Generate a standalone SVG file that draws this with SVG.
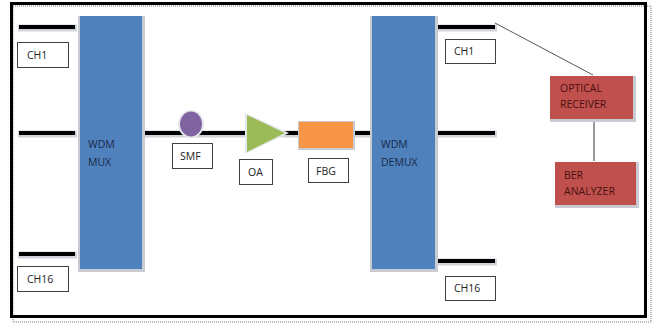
<svg xmlns="http://www.w3.org/2000/svg" width="654" height="323" viewBox="0 0 654 323">
<style>
.lbl{fill:#fff;stroke:#404040;stroke-width:1}
.t{font-family:"Open Sans","Liberation Sans",sans-serif;font-size:10.5px;fill:#222}
.tw{font-family:"Open Sans","Liberation Sans",sans-serif;font-size:10.5px;fill:#1a2a4a}
.tr{font-family:"Open Sans","Liberation Sans",sans-serif;font-size:10.5px;fill:#4a1010}
.fib{stroke:#000;stroke-width:4}
.fsh{stroke:#d0d4da;stroke-width:7}
.sh{fill:#c8ccd2}
</style>
<rect x="0" y="0" width="654" height="323" fill="#fff"/>
<rect x="13" y="6" width="638" height="316" fill="none" stroke="#bbb" stroke-width="2" stroke-dasharray="1 1"/>
<rect x="11.5" y="3.5" width="634" height="313" fill="none" stroke="#000" stroke-width="3"/>
<g id="connectors">
<line class="fsh" x1="18" y1="28" x2="77" y2="28"/>
<line class="fsh" x1="18" y1="134" x2="77" y2="134"/>
<line class="fsh" x1="18" y1="255" x2="77" y2="255"/>
<line class="fsh" x1="142" y1="134" x2="372" y2="134"/>
<line class="fsh" x1="436" y1="28" x2="497" y2="28"/>
<line class="fsh" x1="436" y1="134" x2="497" y2="134"/>
<line class="fsh" x1="436" y1="262" x2="497" y2="262"/>
<line class="fib" x1="19" y1="27" x2="75" y2="27"/>
<line class="fib" x1="19" y1="133" x2="75" y2="133"/>
<line class="fib" x1="19" y1="254" x2="75" y2="254"/>
<line class="fib" x1="142" y1="133" x2="372" y2="133"/>
<line class="fib" x1="437" y1="27" x2="495" y2="27"/>
<line class="fib" x1="437" y1="133" x2="495" y2="133"/>
<line class="fib" x1="437" y1="261" x2="495" y2="261"/>
<line x1="495" y1="23" x2="593" y2="75" stroke="#555" stroke-width="1"/>
<line x1="594" y1="120" x2="594" y2="161" stroke="#555" stroke-width="1.2"/>
</g>
<g id="mux">
<rect class="sh" x="78" y="16" width="67" height="256"/>
<rect x="80" y="16" width="62" height="253" fill="#4F81BD"/>
<text class="tw" x="88" y="148">WDM</text>
<text class="tw" x="88" y="166">MUX</text>
</g>
<g id="demux">
<rect class="sh" x="370" y="16" width="68" height="256"/>
<rect x="372" y="16" width="63" height="253" fill="#4F81BD"/>
<text class="tw" x="381" y="148">WDM</text>
<text class="tw" x="381" y="166">DEMUX</text>
</g>
<g id="ch1-in"><rect class="lbl" x="17.5" y="42.5" width="51" height="25"/><text class="t" x="27" y="59">CH1</text></g>
<g id="ch16-in"><rect class="lbl" x="17.5" y="266.5" width="51" height="25"/><text class="t" x="27" y="283">CH16</text></g>
<g id="ch1-out"><rect class="lbl" x="445.5" y="39.5" width="50" height="24"/><text class="t" x="454" y="55">CH1</text></g>
<g id="ch16-out"><rect class="lbl" x="445.5" y="276.5" width="50" height="24"/><text class="t" x="454" y="292">CH16</text></g>
<g id="smf">
<ellipse cx="191" cy="124" rx="13" ry="14" fill="#e6e8ec"/>
<ellipse cx="191" cy="124" rx="11" ry="12.5" fill="#8064A2"/>
<rect class="lbl" x="172.5" y="143.5" width="40" height="25"/><text class="t" x="180" y="160">SMF</text>
</g>
<g id="oa">
<polygon points="245,113 245,154 289,133" fill="#e6e8ec"/>
<polygon points="247,115 247,152 285,133" fill="#9BBB59"/>
<rect class="lbl" x="239.5" y="159.5" width="33" height="25"/><text class="t" x="248" y="176">OA</text>
</g>
<g id="fbg">
<rect class="sh" x="298" y="121" width="57" height="29"/>
<rect x="299" y="122" width="54" height="26" fill="#F79646"/>
<rect class="lbl" x="308.5" y="158.5" width="40" height="24"/><text class="t" x="316" y="175">FBG</text>
</g>
<g id="receiver">
<rect class="sh" x="550" y="76" width="86" height="46"/>
<rect x="550" y="76" width="83" height="43" fill="#C0504D"/>
<text class="tr" x="560" y="92">OPTICAL</text>
<text class="tr" x="560" y="108">RECEIVER</text>
</g>
<g id="ber">
<rect class="sh" x="555" y="162" width="84" height="46"/>
<rect x="555" y="162" width="81" height="43" fill="#C0504D"/>
<text class="tr" x="564" y="179">BER</text>
<text class="tr" x="564" y="195">ANALYZER</text>
</g>
</svg>
